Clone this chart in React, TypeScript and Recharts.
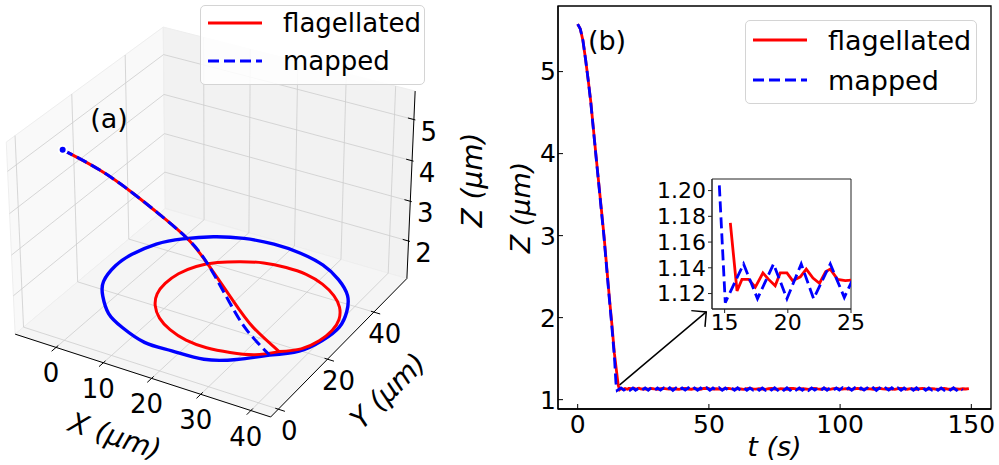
import React from "react";
import { LineChart, Line, XAxis, YAxis, ReferenceArea, ReferenceLine, Legend } from "recharts";

// ---------- panel (b): Z against time ----------
const DESCENT_T = [0, 1, 2, 3, 4, 5, 6, 7, 8, 9, 10, 11, 12, 13, 14];
const FLAG_DESCENT_Z = [5.58, 5.52, 5.38, 5.15, 4.9, 4.63, 4.3, 3.97, 3.65, 3.33, 3.01, 2.64, 2.27, 1.93, 1.56];
const MAPPED_DESCENT_Z = [5.58, 5.52, 5.38, 5.15, 4.9, 4.62, 4.29, 3.96, 3.64, 3.31, 2.99, 2.62, 2.25, 1.9, 1.52];

// settling part, as seen in the inset
const FLAG_SETTLE_T = [15.45, 15.98, 16.37, 16.9, 17.43, 18.03, 18.48, 19.0, 19.4, 19.93, 20.38, 20.99, 21.46, 21.99, 22.51, 22.99, 23.36, 23.94, 24.55];
const FLAG_SETTLE_Z = [1.175, 1.122, 1.131, 1.131, 1.125, 1.136, 1.131, 1.126, 1.136, 1.136, 1.13, 1.133, 1.139, 1.132, 1.128, 1.137, 1.139, 1.131, 1.13];
const MAPPED_SETTLE_T = [14.58, 15.05, 16.5, 17.6, 18.87, 19.93, 21.06, 22.04, 23.36, 24.47];
const MAPPED_SETTLE_Z = [1.204, 1.113, 1.143, 1.116, 1.143, 1.116, 1.143, 1.116, 1.143, 1.117];

// long tail, sampled every TAIL_STEP seconds from TAIL_START
const TAIL_START = 25.7;
const TAIL_STEP = 1.175;
const FLAG_TAIL_Z = [
  1.131, 1.127, 1.136, 1.13, 1.125, 1.134, 1.138, 1.131, 1.128, 1.135,
  1.13, 1.126, 1.133, 1.137, 1.13, 1.127, 1.134, 1.131, 1.125, 1.136,
  1.139, 1.132, 1.128, 1.133, 1.13, 1.126, 1.135, 1.137, 1.131, 1.127,
  1.134, 1.13, 1.125, 1.133, 1.138, 1.131, 1.128, 1.135, 1.13, 1.126,
  1.133, 1.137, 1.13, 1.127, 1.134, 1.131, 1.125, 1.136, 1.138, 1.132,
  1.128, 1.133, 1.13, 1.126, 1.135, 1.137, 1.131, 1.127, 1.134, 1.13,
  1.125, 1.133, 1.138, 1.131, 1.128, 1.135, 1.13, 1.126, 1.133, 1.137,
  1.13, 1.127, 1.134, 1.131, 1.125, 1.136, 1.139, 1.132, 1.128, 1.133,
  1.13, 1.126, 1.135, 1.137, 1.131, 1.127, 1.134, 1.13, 1.125, 1.133,
  1.138, 1.131, 1.128, 1.135, 1.13, 1.126, 1.133, 1.137, 1.13, 1.127,
  1.134, 1.131, 1.128, 1.133, 1.13, 1.135,
];
const MAPPED_TAIL_Z = [
  1.143, 1.115, 1.144, 1.114, 1.142, 1.116, 1.143, 1.115, 1.145, 1.113,
  1.143, 1.115, 1.142, 1.116, 1.144, 1.114, 1.143, 1.115, 1.142, 1.116,
  1.144, 1.114, 1.143, 1.115, 1.145, 1.114, 1.142, 1.116, 1.143, 1.115,
  1.144, 1.113, 1.143, 1.115, 1.142, 1.116, 1.144, 1.114, 1.143, 1.115,
  1.142, 1.116, 1.145, 1.114, 1.143, 1.115, 1.144, 1.114, 1.142, 1.116,
  1.143, 1.115, 1.144, 1.113, 1.143, 1.116, 1.142, 1.115, 1.144, 1.114,
  1.143, 1.115, 1.142, 1.116, 1.145, 1.114, 1.143, 1.115, 1.144, 1.114,
  1.142, 1.116, 1.143, 1.115, 1.144, 1.113, 1.143, 1.115, 1.142, 1.116,
  1.144, 1.114, 1.143, 1.115, 1.142, 1.116, 1.143, 1.115, 1.144, 1.114,
  1.143, 1.115, 1.142, 1.116, 1.144, 1.114, 1.143, 1.115, 1.142, 1.116,
  1.144, 1.114, 1.143, 1.116,
];

const T_TICKS = [0, 50, 100, 150];
const Z_TICKS = [1, 2, 3, 4, 5];
const INSET_T_TICKS = [15, 20, 25];
const INSET_Z_TICKS = [1.12, 1.14, 1.16, 1.18, 1.2];

// ---------- panel (a): 3D trajectories (µm) ----------
const FLAG_X = [0.3, 6.35, 11.75, 16.4, 20.62, 23.91, 28.2, 31.63, 36.07, 38.72, 40.33, 40.79, 40.08, 38.23, 35.39, 31.73, 27.51, 23.02, 18.56, 14.43, 10.93, 8.28, 6.67, 6.21, 6.92, 8.77, 11.61, 15.27, 19.49, 23.98, 28.44, 32.57, 36.07];
const FLAG_Y = [1.2, 3.7, 5.94, 7.86, 9.61, 10.97, 12.75, 14.17, 16.01, 19.67, 23.89, 28.38, 32.84, 36.97, 40.47, 43.12, 44.73, 45.19, 44.48, 42.63, 39.79, 36.13, 31.91, 27.42, 22.96, 18.83, 15.33, 12.68, 11.07, 10.61, 11.32, 13.17, 16.01];
const FLAG_Z = [5.58, 5.18, 4.7, 4.22, 3.74, 3.19, 2.34, 1.72, 1.17, 1.12, 1.13, 1.14, 1.13, 1.13, 1.12, 1.13, 1.14, 1.13, 1.13, 1.12, 1.13, 1.14, 1.13, 1.12, 1.13, 1.14, 1.13, 1.13, 1.12, 1.13, 1.14, 1.13, 1.17];
const MAPPED_X = [0.3, 6.35, 11.75, 16.4, 20.62, 23.91, 27.94, 31.17, 35.34, 38.9, 40.7, 41.4, 40.0, 37.7, 33.5, 28.7, 22.8, 16.95, 10.8, 5.55, 0.75, -2.5, -4.7, -5.0, -4.1, -1.3, 2.7, 7.5, 13.4, 19.2, 25.4, 30.6, 35.34];
const MAPPED_Y = [1.2, 3.7, 5.94, 7.86, 9.61, 10.97, 11.89, 12.63, 13.58, 18.5, 24.4, 30.2, 36.4, 41.6, 46.5, 49.7, 51.9, 52.1, 51.3, 48.4, 44.7, 39.8, 33.8, 28.0, 21.8, 16.6, 11.8, 8.5, 6.3, 6.1, 6.9, 9.8, 13.58];
const MAPPED_Z = [5.58, 5.18, 4.7, 4.22, 3.74, 3.19, 2.34, 1.72, 1.2, 1.14, 1.12, 1.14, 1.12, 1.14, 1.12, 1.14, 1.12, 1.14, 1.12, 1.14, 1.12, 1.14, 1.12, 1.14, 1.12, 1.14, 1.12, 1.14, 1.12, 1.14, 1.12, 1.14, 1.2];
const DESCENT_POINTS = 9; // first points of each 3D path are the sinking phase

const X_TICKS_3D = [0, 10, 20, 30, 40];
const Y_TICKS_3D = [0, 20, 40];
const Z_TICKS_3D = [2, 3, 4, 5];
const X_LIM = [-8.8, 43.9];
const Y_LIM = [-3, 55];
const Z_LIM = [1.04, 5.68];

const RED = "#ff0000";
const BLUE = "#0000ff";
const FONT = "DejaVu Sans, Liberation Sans, sans-serif";

// ---- view of the 3D box (matplotlib default elev/azim, mild perspective)
const ELEV = (30 * Math.PI) / 180;
const AZIM = (-60 * Math.PI) / 180;
const EYE_DIST = 35;

function project(x: number, y: number, z: number) {
  const a = (4 * (x - (X_LIM[0] + X_LIM[1]) / 2)) / (X_LIM[1] - X_LIM[0]);
  const b = (4 * (y - (Y_LIM[0] + Y_LIM[1]) / 2)) / (Y_LIM[1] - Y_LIM[0]);
  const c = (3 * (z - (Z_LIM[0] + Z_LIM[1]) / 2)) / (Z_LIM[1] - Z_LIM[0]);
  const u0 = -Math.sin(AZIM) * a + Math.cos(AZIM) * b;
  const v0 = -Math.sin(ELEV) * Math.cos(AZIM) * a - Math.sin(ELEV) * Math.sin(AZIM) * b + Math.cos(ELEV) * c;
  const depth = Math.cos(ELEV) * Math.cos(AZIM) * a + Math.cos(ELEV) * Math.sin(AZIM) * b + Math.sin(ELEV) * c;
  const f = EYE_DIST / (EYE_DIST - depth);
  return { u: u0 * f, v: v0 * f };
}

const A_W = 480;
const A_H = 465;
const U_DOMAIN = [-2.93, 3.627];
const V_DOMAIN = [-3.452, 2.918];

// same linear mapping the hidden axes of panel (a) use
function toPx(x: number, y: number, z: number) {
  const { u, v } = project(x, y, z);
  return {
    px: ((u - U_DOMAIN[0]) / (U_DOMAIN[1] - U_DOMAIN[0])) * A_W,
    py: ((V_DOMAIN[1] - v) / (V_DOMAIN[1] - V_DOMAIN[0])) * A_H,
  };
}

const path3d = (xs: number[], ys: number[], zs: number[], from: number, to: number) =>
  xs.slice(from, to).map((x, i) => project(x, ys[from + i], zs[from + i]));

const flagDescent = path3d(FLAG_X, FLAG_Y, FLAG_Z, 0, DESCENT_POINTS);
const flagOrbit = path3d(FLAG_X, FLAG_Y, FLAG_Z, DESCENT_POINTS - 1, FLAG_X.length);
const mappedDescent = path3d(MAPPED_X, MAPPED_Y, MAPPED_Z, 0, DESCENT_POINTS);
const mappedOrbit = path3d(MAPPED_X, MAPPED_Y, MAPPED_Z, DESCENT_POINTS - 1, MAPPED_X.length);

const flagSeries = [
  ...DESCENT_T.map((t, i) => ({ t, z: FLAG_DESCENT_Z[i] })),
  ...FLAG_SETTLE_T.map((t, i) => ({ t, z: FLAG_SETTLE_Z[i] })),
  ...FLAG_TAIL_Z.map((z, i) => ({ t: TAIL_START + i * TAIL_STEP, z })),
];
const mappedSeries = [
  ...DESCENT_T.map((t, i) => ({ t, z: MAPPED_DESCENT_Z[i] })),
  ...MAPPED_SETTLE_T.map((t, i) => ({ t, z: MAPPED_SETTLE_Z[i] })),
  ...MAPPED_TAIL_Z.map((z, i) => ({ t: TAIL_START + i * TAIL_STEP, z })),
];
const insetFlag = flagSeries.filter((d) => d.t >= 14.5 && d.t <= 26);
const insetMapped = mappedSeries.filter((d) => d.t >= 14.5 && d.t <= 26);

function LegendBox({ w, h, rows, fontSize }: { w: number; h: number; rows: number[]; fontSize: number }) {
  return (
    <div
      style={{
        width: w,
        height: h,
        boxSizing: "border-box",
        border: "1px solid #d4d4d4",
        borderRadius: 5,
        background: "rgba(255,255,255,0.85)",
        position: "relative",
      }}
    >
      <svg width={w} height={h} style={{ position: "absolute", left: -1, top: -1 }}>
        <line x1={8} x2={62} y1={rows[0]} y2={rows[0]} stroke={RED} strokeWidth={3} />
        <line x1={8} x2={62} y1={rows[1]} y2={rows[1]} stroke={BLUE} strokeWidth={3} strokeDasharray="11 5" />
        <text x={83} y={rows[0]} dominantBaseline="central" fontSize={fontSize} fontFamily={FONT}>flagellated</text>
        <text x={83} y={rows[1]} dominantBaseline="central" fontSize={fontSize} fontFamily={FONT}>mapped</text>
      </svg>
    </div>
  );
}

function Arrow(p: any) {
  const { x1, y1, x2, y2 } = p;
  const ang = Math.atan2(y2 - y1, x2 - x1);
  const L = 15;
  const a1 = ang + Math.PI - Math.PI / 4;
  const a2 = ang + Math.PI + Math.PI / 4;
  return (
    <g>
      <line x1={x1} y1={y1} x2={x2} y2={y2} stroke="#000" strokeWidth={1.5} />
      <path
        d={`M${x2 + L * Math.cos(a1)},${y2 + L * Math.sin(a1)} L${x2},${y2} L${x2 + L * Math.cos(a2)},${y2 + L * Math.sin(a2)}`}
        fill="none"
        stroke="#000"
        strokeWidth={1.5}
      />
    </g>
  );
}

// panes, grid, axes and labels of the 3D box
function Box3D() {
  const [x0, x1] = X_LIM;
  const [y0, y1] = Y_LIM;
  const [z0, z1] = Z_LIM;
  const poly = (pts: number[][]) =>
    pts.map(([x, y, z]) => {
      const p = toPx(x, y, z);
      return `${p.px},${p.py}`;
    }).join(" ");
  const seg = (a: number[], b: number[], key: string, stroke: string, w: number) => {
    const p = toPx(a[0], a[1], a[2]);
    const q = toPx(b[0], b[1], b[2]);
    return <line key={key} x1={p.px} y1={p.py} x2={q.px} y2={q.py} stroke={stroke} strokeWidth={w} />;
  };
  const grid = "#cdcdcd";
  const lines: any[] = [];
  X_TICKS_3D.forEach((x) => {
    lines.push(seg([x, y0, z0], [x, y1, z0], `gxf${x}`, grid, 0.8));
    lines.push(seg([x, y1, z0], [x, y1, z1], `gxb${x}`, grid, 0.8));
  });
  Y_TICKS_3D.forEach((y) => {
    lines.push(seg([x0, y, z0], [x1, y, z0], `gyf${y}`, grid, 0.8));
    lines.push(seg([x0, y, z0], [x0, y, z1], `gyl${y}`, grid, 0.8));
  });
  Z_TICKS_3D.forEach((z) => {
    lines.push(seg([x0, y0, z], [x0, y1, z], `gzl${z}`, grid, 0.8));
    lines.push(seg([x0, y1, z], [x1, y1, z], `gzb${z}`, grid, 0.8));
  });
  const ticks: any[] = [];
  const labels: any[] = [];
  X_TICKS_3D.forEach((x) => {
    ticks.push(seg([x, y0 + 0.8, z0], [x, y0 - 1.6, z0], `tx${x}`, "#000", 1));
    const p = toPx(x, y0, z0);
    labels.push(
      <text key={`lx${x}`} x={p.px - 5} y={p.py + 26} textAnchor="middle" dominantBaseline="central" fontSize={26}>{x}</text>
    );
  });
  Y_TICKS_3D.forEach((y) => {
    ticks.push(seg([x1 - 0.6, y, z0], [x1 + 1.3, y, z0], `ty${y}`, "#000", 1));
    const p = toPx(x1, y, z0);
    labels.push(
      <text key={`ly${y}`} x={p.px + 11} y={p.py + 22} textAnchor="middle" dominantBaseline="central" fontSize={26}>{y}</text>
    );
  });
  Z_TICKS_3D.forEach((z) => {
    ticks.push(seg([x1 - 1.2, y1, z], [x1 + 0.3, y1, z], `tz${z}`, "#000", 1));
    const p = toPx(x1, y1, z);
    labels.push(
      <text key={`lz${z}`} x={p.px + 15} y={p.py + 12} textAnchor="middle" dominantBaseline="central" fontSize={26}>{z}</text>
    );
  });
  return (
    <svg width={520} height={A_H} style={{ position: "absolute", left: 0, top: 0 }} fontFamily={FONT}>
      <polygon points={poly([[x0, y0, z0], [x0, y1, z0], [x0, y1, z1], [x0, y0, z1]])} fill="#f9f9f9" stroke="#eeeeee" />
      <polygon points={poly([[x0, y1, z0], [x1, y1, z0], [x1, y1, z1], [x0, y1, z1]])} fill="#f2f2f2" stroke="#eeeeee" />
      <polygon points={poly([[x0, y0, z0], [x1, y0, z0], [x1, y1, z0], [x0, y1, z0]])} fill="#f5f5f5" stroke="#eeeeee" />
      {lines}
      {seg([x0, y0, z0], [x1, y0, z0], "ax", "#000", 1)}
      {seg([x1, y0, z0], [x1, y1, z0], "ay", "#000", 1)}
      {seg([x1, y1, z0], [x1, y1, z1], "az", "#000", 1)}
      {ticks}
      {labels}
      <text x={115} y={436} textAnchor="middle" dominantBaseline="central" fontSize={28} fontStyle="italic" transform="rotate(18 115 436)">X (μm)</text>
      <text x={388} y={391} textAnchor="middle" dominantBaseline="central" fontSize={28} fontStyle="italic" transform="rotate(-45 388 391)">Y (μm)</text>
      <text x={472} y={180} textAnchor="middle" dominantBaseline="central" fontSize={28} fontStyle="italic" transform="rotate(-90 472 180)">Z (μm)</text>
      <text x={109} y={118} textAnchor="middle" dominantBaseline="central" fontSize={27}>(a)</text>
    </svg>
  );
}

const tickStyle = { fill: "#000", fontSize: 25, fontFamily: FONT };

export default function App() {
  return (
    <div style={{ position: "absolute", left: 0, top: 0, width: 999, height: 465, background: "#fff", fontFamily: FONT, overflow: "hidden" }}>
      {/* (a) 3D trajectories */}
      <div style={{ position: "absolute", left: 0, top: 0, width: 520, height: A_H }}>
        <Box3D />
        <div style={{ position: "absolute", left: 0, top: 0 }}>
          <LineChart width={A_W} height={A_H} margin={{ top: 0, right: 0, bottom: 0, left: 0 }}>
            <XAxis type="number" dataKey="u" domain={U_DOMAIN} allowDataOverflow hide />
            <YAxis type="number" domain={V_DOMAIN} allowDataOverflow hide />
            <Line data={mappedOrbit} type="natural" dataKey="v" stroke={BLUE} strokeWidth={3.4} dot={false} isAnimationActive={false} />
            <Line data={flagOrbit} type="natural" dataKey="v" stroke={RED} strokeWidth={3} dot={false} isAnimationActive={false} />
            <Line data={flagDescent} type="natural" dataKey="v" stroke={RED} strokeWidth={3} dot={false} isAnimationActive={false} />
            <Line data={mappedDescent} type="natural" dataKey="v" stroke={BLUE} strokeWidth={3} strokeDasharray="11 5" dot={false} isAnimationActive={false} />
            <Legend
              layout="vertical"
              align="center"
              verticalAlign="middle"
              wrapperStyle={{ left: 200, top: 5, width: 225, height: 80 }}
              content={() => <LegendBox w={225} h={80} rows={[18, 56]} fontSize={26} />}
            />
          </LineChart>
        </div>
      </div>

      {/* (b) Z(t) */}
      <div style={{ position: "absolute", left: 480, top: 0 }}>
        <LineChart width={519} height={465} margin={{ top: 6, right: 8, bottom: 0, left: 0 }}>
          <XAxis
            type="number"
            dataKey="t"
            domain={[-7.5, 157.5]}
            ticks={T_TICKS}
            interval={0}
            allowDataOverflow
            height={56}
            tickSize={-5}
            tickMargin={11}
            tick={tickStyle}
            axisLine={{ stroke: "#000", strokeWidth: 1.3 }}
            tickLine={{ stroke: "#000" }}
            label={{ value: "t (s)", position: "insideBottom", offset: 9, fontSize: 27, fill: "#000", fontStyle: "italic" }}
          />
          <YAxis
            type="number"
            domain={[0.886, 5.8]}
            ticks={Z_TICKS}
            interval={0}
            allowDataOverflow
            width={78}
            tickSize={-5}
            tickMargin={7}
            tick={tickStyle}
            axisLine={{ stroke: "#000", strokeWidth: 1.3 }}
            tickLine={{ stroke: "#000" }}
            label={{
              content: (p: any) => {
                const vb = p.viewBox || { x: 0, y: 6, height: 403 };
                const cx = vb.x + 40;
                const cy = vb.y + vb.height / 2;
                return (
                  <text x={cx} y={cy} textAnchor="middle" dominantBaseline="central" fontSize={27} fontStyle="italic" transform={`rotate(-90 ${cx} ${cy})`}>
                    Z (μm)
                  </text>
                );
              },
            }}
          />
          <ReferenceArea x1={-7.5} x2={157.5} y1={0.886} y2={5.8} fill="none" stroke="#000" strokeWidth={1.3} ifOverflow="visible" />
          <Line data={flagSeries} dataKey="z" stroke={RED} strokeWidth={2.8} dot={false} isAnimationActive={false} />
          <Line data={mappedSeries} dataKey="z" stroke={BLUE} strokeWidth={2.8} strokeDasharray="11 5" dot={false} isAnimationActive={false} />
          <ReferenceLine segment={[{ x: 16, y: 1.18 }, { x: 49, y: 2.07 }]} ifOverflow="visible" shape={Arrow} />
          <Legend
            layout="vertical"
            align="center"
            verticalAlign="middle"
            wrapperStyle={{ left: 265, top: 20, width: 232, height: 84 }}
            content={() => <LegendBox w={232} h={84} rows={[20, 60]} fontSize={27} />}
          />
        </LineChart>
        <svg width={60} height={60} style={{ position: "absolute", left: 95, top: 12 }}>
          <text x={32} y={28} textAnchor="middle" dominantBaseline="central" fontSize={27} fontFamily={FONT}>(b)</text>
        </svg>
      </div>

      {/* inset: settling oscillation */}
      <div style={{ position: "absolute", left: 640, top: 170 }}>
        <LineChart width={230} height={170} margin={{ top: 9, right: 19, bottom: 0, left: 0 }}>
          <XAxis
            type="number"
            dataKey="t"
            domain={[14, 25]}
            ticks={INSET_T_TICKS}
            interval={0}
            allowDataOverflow
            height={31}
            tickSize={4}
            tickMargin={1}
            tick={{ fill: "#000", fontSize: 22, fontFamily: FONT }}
            axisLine={{ stroke: "#222" }}
            tickLine={{ stroke: "#222" }}
          />
          <YAxis
            type="number"
            domain={[1.108, 1.209]}
            ticks={INSET_Z_TICKS}
            interval={0}
            allowDataOverflow
            width={72}
            tickSize={4}
            tickMargin={2}
            tickFormatter={(v: number) => v.toFixed(2)}
            tick={{ fill: "#000", fontSize: 22, fontFamily: FONT }}
            axisLine={{ stroke: "#222" }}
            tickLine={{ stroke: "#222" }}
          />
          <ReferenceArea x1={14} x2={25} y1={1.108} y2={1.209} fill="#fff" fillOpacity={1} stroke="#222" strokeWidth={1} ifOverflow="visible" />
          <Line data={insetFlag} dataKey="z" stroke={RED} strokeWidth={2.8} dot={false} isAnimationActive={false} />
          <Line data={insetMapped} dataKey="z" stroke={BLUE} strokeWidth={2.8} strokeDasharray="11 5" dot={false} isAnimationActive={false} />
        </LineChart>
      </div>
    </div>
  );
}
